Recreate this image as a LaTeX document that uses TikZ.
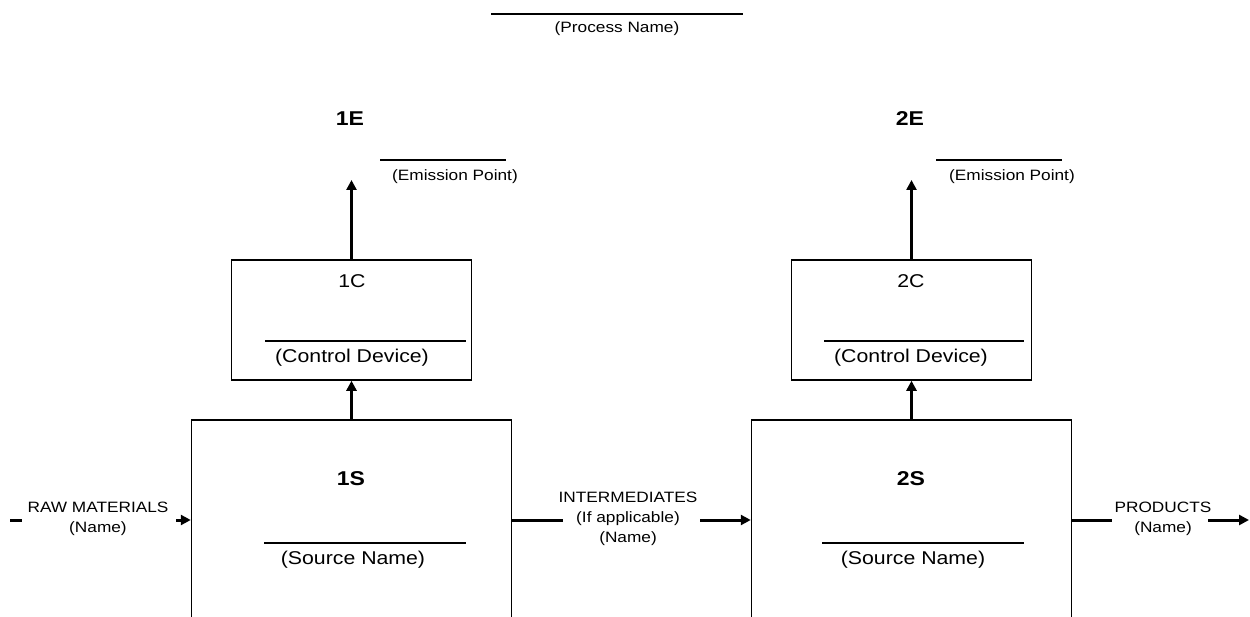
\documentclass[tikz,border=0pt]{standalone}
\usepackage{fontspec}
\setmainfont{Liberation Sans}[FakeStretch=1.15]
\usetikzlibrary{arrows.meta}
\tikzset{
  box/.style={draw, line width=1.5pt, inner sep=0pt},
  flow/.style={line width=3pt, -{Triangle[length=10pt,width=10pt]}},
  pipe/.style={line width=3pt},
  blank/.style={line width=1.3pt},
  smalltext/.style={font=\fontsize{15}{20}\selectfont, align=center, inner sep=0pt},
  bigtext/.style={font=\fontsize{18.5}{20}\selectfont, inner sep=0pt},
  idtext/.style={font=\bfseries\fontsize{20}{20}\selectfont, inner sep=0pt},
}
\begin{document}
\begin{tikzpicture}[x=1pt,y=-1pt]
\useasboundingbox (0,0) rectangle (1250,617);
\clip (0,0) rectangle (1250,617);
% process name
\draw [blank] (491,14) -- (743,14);
\node (process) [smalltext] at (617,29) {(Process Name)};
% emission points
\node (e1) [idtext] at (350,119) {1E};
\node (e2) [idtext] at (910,119) {2E};
\draw [blank] (380,160) -- (506,160);
\node (ep1) [smalltext] at (455,177) {(Emission Point)};
\draw [blank] (936,160) -- (1062,160);
\node (ep2) [smalltext] at (1012,177) {(Emission Point)};
\coordinate (out1) at (351.5,180);
\coordinate (out2) at (911.5,180);
% control devices
\node (ctl1) [box, minimum width=240, minimum height=120] at (351.5,320) {};
\node (c1) [bigtext] at (352,281) {1C};
\draw [blank] (265,341) -- (466,341);
\node (cd1) [bigtext] at (352,358) {(Control Device)};
\node (ctl2) [box, minimum width=240, minimum height=120] at (911.5,320) {};
\node (c2) [bigtext] at (911,281) {2C};
\draw [blank] (824,341) -- (1024,341);
\node (cd2) [bigtext] at (911,358) {(Control Device)};
% sources
\node (src1) [box, minimum width=320, minimum height=200] at (351.5,520) {};
\node (s1) [idtext] at (351,479) {1S};
\draw [blank] (264,543) -- (466,543);
\node (sn1) [bigtext] at (353,560) {(Source Name)};
\node (src2) [box, minimum width=320, minimum height=200] at (911.5,520) {};
\node (s2) [idtext] at (911,479) {2S};
\draw [blank] (822,543) -- (1024,543);
\node (sn2) [bigtext] at (913,560) {(Source Name)};
% streams
\node (raw) [smalltext] at (98,519) {RAW MATERIALS\\(Name)};
\node (mid) [smalltext] at (628,519) {INTERMEDIATES\\(If applicable)\\(Name)};
\node (prod) [smalltext] at (1163,519) {PRODUCTS\\(Name)};
\coordinate (rawa) at (10,520);
\coordinate (rawb) at (22,520);
\coordinate (rawc) at (176,520);
\coordinate (mida) at (563,520);
\coordinate (midb) at (700,520);
\coordinate (proda) at (1112,520);
\coordinate (prodb) at (1208,520);
\coordinate (prodc) at (1249,520);
\draw [pipe] (rawa) -- (rawb);
\draw [flow] (rawc) -- (src1.west);
\draw [pipe] (src1.east) -- (mida);
\draw [flow] (midb) -- (src2.west);
\draw [pipe] (src2.east) -- (proda);
\draw [flow] (prodb) -- (prodc);
\draw [flow] (src1.north) -- (ctl1.south);
\draw [flow] (src2.north) -- (ctl2.south);
\draw [flow] (ctl1.north) -- (out1);
\draw [flow] (ctl2.north) -- (out2);
\end{tikzpicture}
\end{document}
